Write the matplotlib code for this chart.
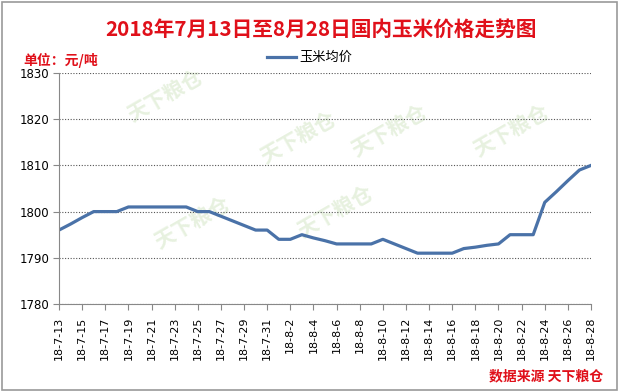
import matplotlib
matplotlib.use("Agg")
import matplotlib.pyplot as plt
from matplotlib.patches import Rectangle

plt.rcParams['font.family'] = ['Noto Sans CJK SC', 'DejaVu Sans']

# daily dates 2018-7-13 .. 2018-8-28
dates = ["18-7-%d" % d for d in range(13, 32)] + ["18-8-%d" % d for d in range(1, 29)]
prices = [1796, 1797.3, 1798.7, 1800, 1800, 1800, 1801, 1801, 1801, 1801, 1801, 1801,
          1800, 1800, 1799, 1798, 1797, 1796, 1796,
          1794, 1794, 1795, 1794.3, 1793.7, 1793, 1793, 1793, 1793, 1794, 1793, 1792,
          1791, 1791, 1791, 1791, 1792, 1792.3, 1792.7, 1793, 1795, 1795, 1795,
          1802, 1804.3, 1806.7, 1809, 1810]
y_ticks = [1780, 1790, 1800, 1810, 1820, 1830]

red = '#e0101a'
fig = plt.figure(figsize=(6.19, 3.92), dpi=100)
fig.patches.append(Rectangle((0.004, 0.004), 0.992, 0.992, transform=fig.transFigure,
                             fill=False, edgecolor='#9a9a9a', linewidth=1.2))

ax = fig.add_axes([0.0953, 0.2245, 0.8595, 0.5893])
x = list(range(len(dates)))
line, = ax.plot(x, prices, color='#4a72a8', linewidth=2.3, label='玉米均价')

# faint watermarks
for wx, wy in [(0.2, 0.9), (0.45, 0.72), (0.62, 0.75), (0.85, 0.75), (0.25, 0.35), (0.52, 0.4)]:
    ax.text(wx, wy, '天下粮仓', transform=ax.transAxes, rotation=30, fontsize=15,
            color='#cfe3c0', alpha=0.5, ha='center', va='center', fontweight='bold', zorder=0)

ax.set_xlim(0, len(dates) - 1)
ax.set_ylim(1780, 1830)
ax.set_yticks(y_ticks)
ax.set_yticklabels([str(v) for v in y_ticks], fontsize=8.5, family=['DejaVu Sans'])
ax.set_xticks(x[::2])
ax.set_xticklabels(dates[::2], rotation=90, fontsize=8, family=['DejaVu Sans'])
ax.grid(axis='y', linestyle=(0, (1, 1.5)), color='#555555', linewidth=0.8)
ax.spines['top'].set_visible(False)
ax.spines['right'].set_visible(False)
ax.spines['left'].set_color('#888888')
ax.spines['bottom'].set_color('#888888')
ax.tick_params(axis='both', color='#888888', length=4, direction='out', pad=3)
ax.tick_params(axis='x', pad=5)

fig.text(0.519, 0.925, '2018年7月13日至8月28日国内玉米价格走势图', ha='center', va='center',
         fontsize=14.9, fontweight='bold', color=red)
fig.text(0.037, 0.847, '单位：元/吨', ha='left', va='center', fontsize=10,
         fontweight='bold', color=red)
fig.legend(handles=[line], loc='center', bbox_to_anchor=(0.5, 0.853), frameon=False,
           fontsize=9.5, handlelength=2.2, handletextpad=0.3)
fig.text(0.975, 0.04, '数据来源 天下粮仓', ha='right', va='center', fontsize=10,
         fontweight='bold', color=red)

fig.savefig('out.png', dpi=100)
